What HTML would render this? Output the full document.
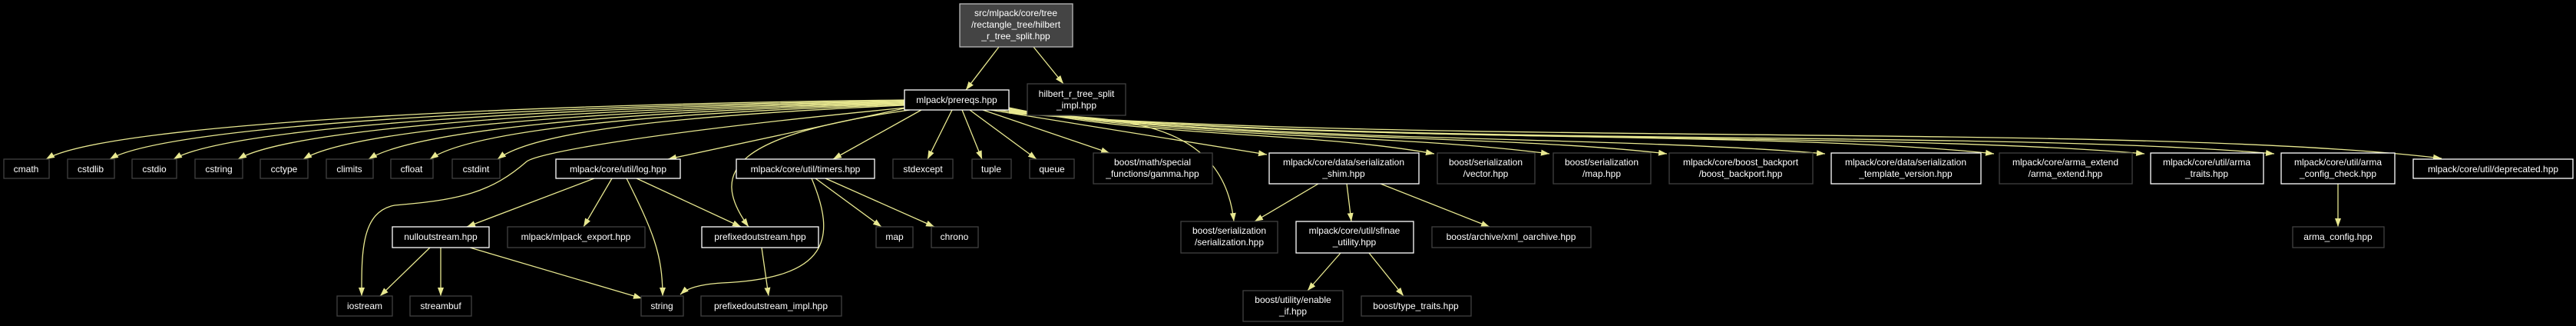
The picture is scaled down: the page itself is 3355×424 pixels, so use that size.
<!DOCTYPE html>
<html><head><meta charset="utf-8"><style>
html,body{margin:0;padding:0;background:#000;}
svg{display:block;}
text{font-family:"Liberation Sans",sans-serif;font-size:12px;fill:#fff;text-anchor:middle;}
.e{fill:none;stroke:#e8e890;stroke-width:1.3;}
.g{fill:#000;stroke:#404040;stroke-width:1.3;}
.w{fill:#000;stroke:#ffffff;stroke-width:1.3;}
</style></head><body>
<svg width="3355" height="424" viewBox="0 0 3355 424" xmlns="http://www.w3.org/2000/svg">
<defs><marker id="a" markerWidth="12" markerHeight="10" refX="11" refY="4" orient="auto" markerUnits="userSpaceOnUse"><path d="M0,0 L11,4 L0,8 z" fill="#e8e890"/></marker></defs>
<g marker-end="url(#a)">
<path class="e" d="M1301,61 L1258,117"/>
<path class="e" d="M1346,61 L1385,109"/>
<path class="e" d="M1178,130 C700,135 140,160 60,207"/>
<path class="e" d="M1178,131 C720,137 220,162 143,207"/>
<path class="e" d="M1178,132 C740,139 300,164 226,207"/>
<path class="e" d="M1178,133 C760,141 380,166 310,207"/>
<path class="e" d="M1178,134 C780,143 460,168 395,207"/>
<path class="e" d="M1178,135 C800,145 540,170 480,207"/>
<path class="e" d="M1178,136 C820,148 610,172 560,207"/>
<path class="e" d="M1178,137 C840,152 690,175 648,207"/>
<path class="e" d="M1180,140 C820,175 700,200 686,210 C640,250 600,260 514,267 C470,275 471,330 471,385"/>
<path class="e" d="M1182,140 L870,207"/>
<path class="e" d="M1200,143 L1085,207"/>
<path class="e" d="M1185,143 C960,175 920,220 975,295"/>
<path class="e" d="M1240,143 L1208,207"/>
<path class="e" d="M1253,143 L1279,207"/>
<path class="e" d="M1263,143 L1350,207"/>
<path class="e" d="M1280,143 L1445,199"/>
<path class="e" d="M1290,143 L1650,201"/>
<path class="e" d="M1300,143 C1400,160 1590,130 1607,288"/>
<path class="e" d="M1314,140 C1500,180 1700,170 1868,200"/>
<path class="e" d="M1314,141 C1550,182 1800,172 2018,200"/>
<path class="e" d="M1314,142 C1600,184 1950,174 2171,200"/>
<path class="e" d="M1314,143 C1650,186 2100,176 2377,200"/>
<path class="e" d="M1314,144 C1700,188 2300,168 2597,200"/>
<path class="e" d="M1314,145 C1750,190 2450,170 2793,200"/>
<path class="e" d="M1314,146 C1800,192 2600,168 2962,200"/>
<path class="e" d="M1314,147 C1850,190 2800,160 3180,206"/>
<path class="e" d="M774,232 L608,295"/>
<path class="e" d="M797,232 L760,295"/>
<path class="e" d="M816,232 C850,300 863,330 863,385"/>
<path class="e" d="M829,232 L965,295"/>
<path class="e" d="M560,322 L495,385"/>
<path class="e" d="M574,322 L574,385"/>
<path class="e" d="M612,322 L836,388"/>
<path class="e" d="M992,322 L1001,385"/>
<path class="e" d="M1057,232 C1090,310 1080,362 940,368 C910,370 895,375 886,383"/>
<path class="e" d="M1062,232 L1148,295"/>
<path class="e" d="M1075,232 L1217,295"/>
<path class="e" d="M1717,239 L1634,288"/>
<path class="e" d="M1754,239 L1760,288"/>
<path class="e" d="M1798,239 L1940,295"/>
<path class="e" d="M1746,329 L1703,378"/>
<path class="e" d="M1783,329 L1828,385"/>
<path class="e" d="M3045,239 L3045,295"/>
</g>
<rect x="1250" y="5" width="147" height="56" fill="#444" stroke="#bbb" stroke-width="1.3"/>
<text x="1323" y="21">src/mlpack/core/tree</text><text x="1323" y="36">/rectangle_tree/hilbert</text><text x="1323" y="51">_r_tree_split.hpp</text>
<rect class="w" x="1178" y="117" width="136" height="26"/><text x="1246" y="134">mlpack/prereqs.hpp</text>
<rect class="g" x="1338" y="109" width="128" height="41"/><text x="1402" y="126">hilbert_r_tree_split</text><text x="1402" y="141">_impl.hpp</text>
<rect class="g" x="5" y="207" width="59" height="25"/><text x="34" y="224">cmath</text>
<rect class="g" x="88" y="207" width="61" height="25"/><text x="118" y="224">cstdlib</text>
<rect class="g" x="172" y="207" width="58" height="25"/><text x="201" y="224">cstdio</text>
<rect class="g" x="254" y="207" width="62" height="25"/><text x="285" y="224">cstring</text>
<rect class="g" x="339" y="207" width="62" height="25"/><text x="370" y="224">cctype</text>
<rect class="g" x="425" y="207" width="61" height="25"/><text x="455" y="224">climits</text>
<rect class="g" x="509" y="207" width="55" height="25"/><text x="536" y="224">cfloat</text>
<rect class="g" x="589" y="207" width="62" height="25"/><text x="620" y="224">cstdint</text>
<rect class="w" x="724" y="207" width="162" height="25"/><text x="805" y="224">mlpack/core/util/log.hpp</text>
<rect class="w" x="959" y="207" width="180" height="25"/><text x="1049" y="224">mlpack/core/util/timers.hpp</text>
<rect class="g" x="1163" y="207" width="78" height="25"/><text x="1202" y="224">stdexcept</text>
<rect class="g" x="1266" y="207" width="51" height="25"/><text x="1291" y="224">tuple</text>
<rect class="g" x="1341" y="207" width="58" height="25"/><text x="1370" y="224">queue</text>
<rect class="g" x="1424" y="199" width="155" height="40"/><text x="1501" y="215">boost/math/special</text><text x="1501" y="230">_functions/gamma.hpp</text>
<rect class="w" x="1653" y="199" width="195" height="40"/><text x="1750" y="215">mlpack/core/data/serialization</text><text x="1750" y="230">_shim.hpp</text>
<rect class="g" x="1872" y="199" width="127" height="40"/><text x="1935" y="215">boost/serialization</text><text x="1935" y="230">/vector.hpp</text>
<rect class="g" x="2023" y="199" width="127" height="40"/><text x="2086" y="215">boost/serialization</text><text x="2086" y="230">/map.hpp</text>
<rect class="g" x="2174" y="199" width="187" height="40"/><text x="2267" y="215">mlpack/core/boost_backport</text><text x="2267" y="230">/boost_backport.hpp</text>
<rect class="w" x="2385" y="199" width="195" height="40"/><text x="2482" y="215">mlpack/core/data/serialization</text><text x="2482" y="230">_template_version.hpp</text>
<rect class="g" x="2604" y="199" width="173" height="40"/><text x="2690" y="215">mlpack/core/arma_extend</text><text x="2690" y="230">/arma_extend.hpp</text>
<rect class="w" x="2801" y="199" width="147" height="40"/><text x="2874" y="215">mlpack/core/util/arma</text><text x="2874" y="230">_traits.hpp</text>
<rect class="w" x="2971" y="199" width="148" height="40"/><text x="3045" y="215">mlpack/core/util/arma</text><text x="3045" y="230">_config_check.hpp</text>
<rect class="w" x="3143" y="207" width="208" height="25"/><text x="3247" y="224">mlpack/core/util/deprecated.hpp</text>
<rect class="w" x="511" y="295" width="126" height="27"/><text x="574" y="312">nulloutstream.hpp</text>
<rect class="g" x="661" y="295" width="179" height="27"/><text x="750" y="312">mlpack/mlpack_export.hpp</text>
<rect class="w" x="914" y="295" width="152" height="27"/><text x="990" y="312">prefixedoutstream.hpp</text>
<rect class="g" x="1141" y="295" width="48" height="27"/><text x="1165" y="312">map</text>
<rect class="g" x="1213" y="295" width="61" height="27"/><text x="1243" y="312">chrono</text>
<rect class="g" x="1538" y="288" width="126" height="41"/><text x="1601" y="304">boost/serialization</text><text x="1601" y="319">/serialization.hpp</text>
<rect class="w" x="1688" y="288" width="153" height="41"/><text x="1764" y="304">mlpack/core/util/sfinae</text><text x="1764" y="319">_utility.hpp</text>
<rect class="g" x="1865" y="295" width="207" height="27"/><text x="1968" y="312">boost/archive/xml_oarchive.hpp</text>
<rect class="g" x="2986" y="295" width="119" height="27"/><text x="3045" y="312">arma_config.hpp</text>
<rect class="g" x="439" y="385" width="72" height="26"/><text x="475" y="402">iostream</text>
<rect class="g" x="534" y="385" width="80" height="26"/><text x="574" y="402">streambuf</text>
<rect class="g" x="835" y="385" width="55" height="26"/><text x="862" y="402">string</text>
<rect class="g" x="913" y="385" width="183" height="26"/><text x="1004" y="402">prefixedoutstream_impl.hpp</text>
<rect class="g" x="1619" y="378" width="130" height="40"/><text x="1684" y="394">boost/utility/enable</text><text x="1684" y="409">_if.hpp</text>
<rect class="g" x="1773" y="385" width="143" height="26"/><text x="1844" y="402">boost/type_traits.hpp</text>
</svg>
</body></html>
